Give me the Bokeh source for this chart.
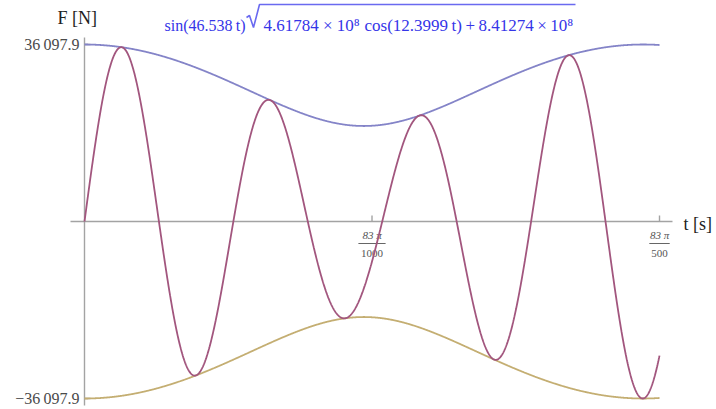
import numpy as np
from bokeh.plotting import figure
from bokeh.models import Range1d
from bokeh.core.properties import value
from bokeh.embed import file_html
from bokeh.resources import INLINE

# ---- data: the plotted function, constants ----
omega_fast = 46.538          # sin(46.538 t)
amp_cos = 4.61784e8          # 4.61784 x 10^8 cos(...)
omega_slow = 12.3999         # cos(12.3999 t)
amp_const = 8.41274e8        # + 8.41274 x 10^8
t_end = 83 * np.pi / 500     # plot domain end

y_tick_values = [36097.9, -36097.9]
y_tick_labels = ["36\u2009097.9", "\u221236\u2009097.9"]
x_tick_values = [83 * np.pi / 1000, 83 * np.pi / 500]
x_tick_num = ["83 \u03c0", "83 \u03c0"]
x_tick_den = ["1000", "500"]

t = np.linspace(0.0, t_end, 1500)
envelope = np.sqrt(amp_cos * np.cos(omega_slow * t) + amp_const)
force = np.sin(omega_fast * t) * envelope

# ---- layout: image-pixel geometry ----
W, H = 716, 409
SX = 1102.6                  # px per second
SY = 354.0 / (2 * 36097.9)   # px per newton
X0_PIX, Y0_PIX = 84.0, 221.0


def px(x_pix):
    return (x_pix - X0_PIX) / SX


def py(y_pix):
    return (Y0_PIX - y_pix) / SY


p = figure(width=W, height=H, output_backend="svg", toolbar_location=None,
           x_range=Range1d(px(0), px(W)),
           y_range=Range1d(py(H), py(0)),
           x_axis_location=None, y_axis_location=None,
           min_border=0, outline_line_color=None)
p.xgrid.grid_line_color = None
p.ygrid.grid_line_color = None
p.background_fill_color = "white"
p.border_fill_color = "white"

AX = "#a3a3a3"
SERIF = value("Liberation Serif")

# axes
p.segment(x0=[px(70), 0], y0=[0, py(405)], x1=[px(672), 0], y1=[0, py(37)],
          line_color=AX, line_width=1.4)
# y ticks
p.segment(x0=[0, 0], y0=y_tick_values, x1=[6 / SX, 6 / SX], y1=y_tick_values,
          line_color=AX, line_width=1.4)
p.text(x=[px(79), px(79)], y=y_tick_values, text=y_tick_labels,
       text_align="right", text_baseline="middle", text_font=SERIF,
       text_font_size="16px", text_color="#4a4a4a")
# x ticks
p.segment(x0=x_tick_values, y0=[0, 0], x1=x_tick_values, y1=[6 / SY, 6 / SY],
          line_color=AX, line_width=1.4)
p.text(x=x_tick_values, y=[py(234)] * 2, text=x_tick_num,
       text_align="center", text_baseline="middle", text_font=SERIF,
       text_font_size="11px", text_font_style="italic", text_color="#555555")
p.text(x=x_tick_values, y=[py(253)] * 2, text=x_tick_den,
       text_align="center", text_baseline="middle", text_font=SERIF,
       text_font_size="11px", text_color="#555555")
half = [3.4 * len(d) / SX for d in x_tick_den]
p.segment(x0=[v - h for v, h in zip(x_tick_values, half)], y0=[py(243)] * 2,
          x1=[v + h for v, h in zip(x_tick_values, half)], y1=[py(243)] * 2,
          line_color="#666666", line_width=1.2)

# curves
p.line(t, envelope, line_color="#8484c8", line_width=1.8)
p.line(t, -envelope, line_color="#c4ae72", line_width=1.8)
p.line(t, force, line_color="#a2567e", line_width=1.8)

# axis labels
p.text(x=[px(57)], y=[py(17)], text=["F [N]"], text_align="left",
       text_baseline="middle", text_font=SERIF, text_font_size="18px",
       text_color="#222222")
p.text(x=[px(683)], y=[py(223)], text=["t [s]"], text_align="left",
       text_baseline="middle", text_font=SERIF, text_font_size="18px",
       text_color="#222222")

# title formula
BLUE = "#3535e8"
title_parts = ["sin(46.538\u2009t)", "4.61784 \u00d7 10\u2078",
               "cos(12.3999\u2009t)", "+\u20098.41274\u2009\u00d7\u200910\u2078"]
title_x = [164, 263, 364, 465]
title_size = ["16px", "17px", "17px", "17px"]
for txt, xx, fs in zip(title_parts, title_x, title_size):
    p.text(x=[px(xx)], y=[py(25)], text=[txt], text_align="left",
           text_baseline="alphabetic", text_font=SERIF, text_font_size=fs,
           text_color=BLUE)
p.line([px(246), px(249), px(253), px(259), px(575)],
       [py(17), py(15), py(27), py(4), py(4)], line_color="#6a6af0",
       line_width=1.6)

open("out.html", "w").write(file_html(p, INLINE))
